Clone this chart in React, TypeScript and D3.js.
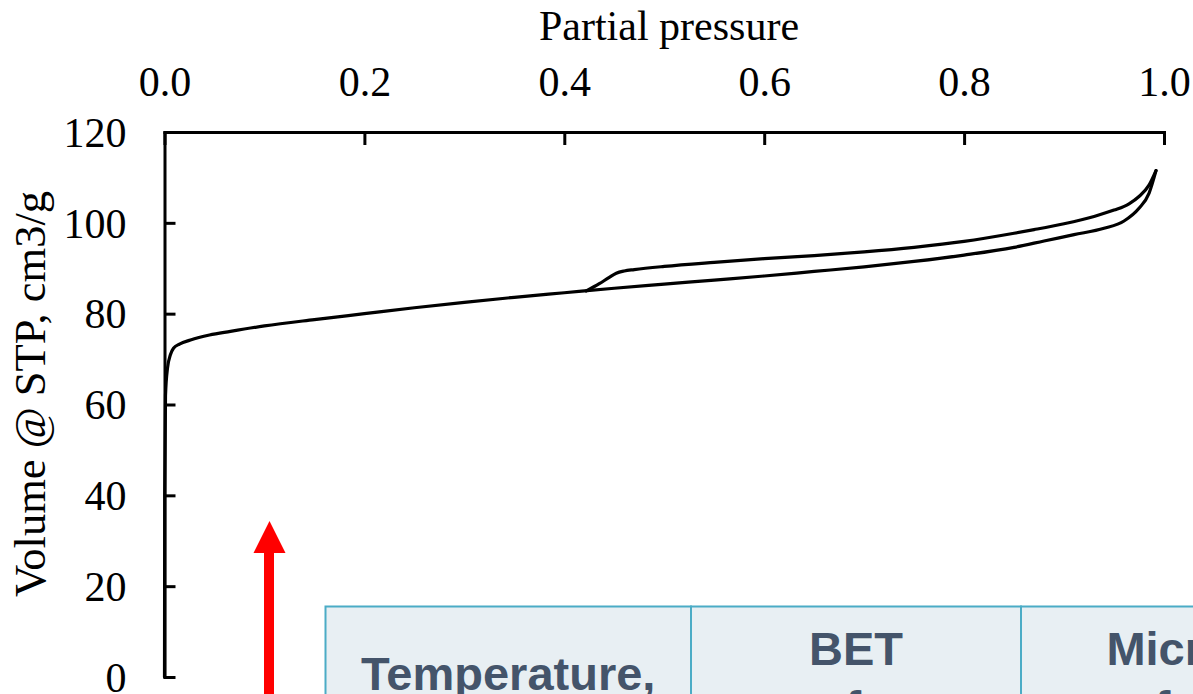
import React, { useEffect, useRef } from "react";
import * as d3 from "d3";

// Adsorption branch (partial pressure, volume)
const adsP = [0, 0.0002, 0.001, 0.003, 0.006, 0.009, 0.015, 0.026, 0.045, 0.066, 0.1, 0.15, 0.2, 0.25, 0.3, 0.35, 0.4, 0.45, 0.5, 0.55, 0.6, 0.65, 0.7, 0.75, 0.8, 0.85, 0.88, 0.91, 0.94, 0.96, 0.975, 0.985, 0.992];
const adsV = [0, 40, 62, 68, 71, 72.4, 73.3, 74.2, 75.3, 76.1, 77.3, 78.7, 80.0, 81.3, 82.5, 83.6, 84.6, 85.6, 86.5, 87.4, 88.3, 89.3, 90.3, 91.5, 92.9, 94.6, 96.0, 97.4, 98.8, 100.4, 103.2, 106.5, 111.5];

// Desorption branch
const desP = [0.422, 0.435, 0.445, 0.452, 0.46, 0.47, 0.5, 0.55, 0.6, 0.65, 0.7, 0.75, 0.8, 0.85, 0.87, 0.9, 0.93, 0.95, 0.965, 0.975, 0.985, 0.992];
const desV = [85.0, 86.6, 88.0, 88.9, 89.4, 89.7, 90.4, 91.3, 92.1, 92.8, 93.6, 94.6, 95.9, 97.7, 98.5, 99.8, 101.4, 102.8, 104.2, 105.8, 108.3, 111.5];

const xTicks = [0, 0.2, 0.4, 0.6, 0.8, 1.0];
const yTicks = [0, 20, 40, 60, 80, 100, 120];

const xTitle = "Partial pressure";
const yTitle = "Volume @ STP, cm3/g";

// Table header fragment
const tableCols = [
  { lines: ["Temperature,", "°C"], first: 690 },
  { lines: ["BET", "surface", "area"], first: 665 },
  { lines: ["Micropore", "surface area"], first: 665 },
];

export default function App() {
  const ref = useRef<SVGSVGElement | null>(null);

  useEffect(() => {
    const svg = d3.select(ref.current);
    svg.selectAll("*").remove();
    const W = 1193, H = 694;
    const x = d3.scaleLinear().domain([0, 1]).range([164.5, 1164]);
    const y = d3.scaleLinear().domain([0, 120]).range([677, 132]);
    const serif = "'Liberation Serif', 'Times New Roman', serif";
    const fs = 42;

    // Axes
    const gx = svg.append("g").attr("transform", `translate(0,${y(120)})`)
      .call(d3.axisTop(x).tickValues(xTicks).tickSize(-13).tickSizeOuter(0).tickPadding(36).tickFormat(d3.format(".1f")));
    const gy = svg.append("g").attr("transform", `translate(${x(0)},0)`)
      .call(d3.axisLeft(y).tickValues(yTicks).tickSize(-11).tickSizeOuter(0).tickPadding(38));
    [gx, gy].forEach((g) => {
      g.attr("font-family", serif).attr("font-size", fs);
      g.selectAll("path.domain").attr("stroke", "#000").attr("stroke-width", 3).attr("stroke-linecap", "square");
      g.selectAll(".tick line").attr("stroke", "#000").attr("stroke-width", 3);
      g.selectAll(".tick text").attr("fill", "#000");
    });
    gx.selectAll(".tick text").attr("dy", "0");
    gy.selectAll(".tick text").attr("dy", "0.34em");

    // titles
    svg.append("text").attr("x", 669).attr("y", 40).attr("text-anchor", "middle")
      .attr("font-family", serif).attr("font-size", 42).text(xTitle);
    svg.append("text").attr("transform", `translate(45,394) rotate(-90)`).attr("text-anchor", "middle")
      .attr("font-family", serif).attr("font-size", 44.5).text(yTitle);

    // curves
    const line = d3.line<[number, number]>().x((d) => x(d[0])).y((d) => y(d[1])).curve(d3.curveMonotoneX);
    const ads = adsP.map((p, i) => [p, adsV[i]] as [number, number]);
    const des = desP.map((p, i) => [p, desV[i]] as [number, number]);
    [ads, des].forEach((data) => {
      svg.append("path").attr("d", line(data)).attr("fill", "none").attr("stroke", "#000")
        .attr("stroke-width", 3.2).attr("stroke-linejoin", "round").attr("stroke-linecap", "round");
    });

    // red arrow annotation
    svg.append("rect").attr("x", 264).attr("y", 550).attr("width", 10).attr("height", H - 550 + 10).attr("fill", "#FF0000");
    svg.append("path").attr("d", "M253.5,553 L285.5,553 L269.5,521 Z").attr("fill", "#FF0000");

    // table fragment
    const colX = [325.5, 691, 1021, 1419];
    const tg = svg.append("g");
    tableCols.forEach((c, i) => {
      const x0 = colX[i], x1 = colX[i + 1];
      tg.append("rect").attr("x", x0).attr("y", 606.5).attr("width", x1 - x0).attr("height", 300)
        .attr("fill", "#E8EFF3").attr("stroke", "#4BACC6").attr("stroke-width", 2);
      c.lines.forEach((t, j) => {
        tg.append("text").attr("x", (x0 + x1) / 2).attr("y", c.first + j * 59).attr("text-anchor", "middle")
          .attr("font-family", "'Liberation Sans', Arial, sans-serif").attr("font-weight", "bold")
          .attr("font-size", 47).attr("fill", "#44546A").text(t);
      });
    });
    svg.attr("width", W).attr("height", H);
  }, []);

  return (
    <svg ref={ref} width={1193} height={694}
      style={{ position: "absolute", left: 0, top: 0, background: "#fff", overflow: "hidden" }} />
  );
}
